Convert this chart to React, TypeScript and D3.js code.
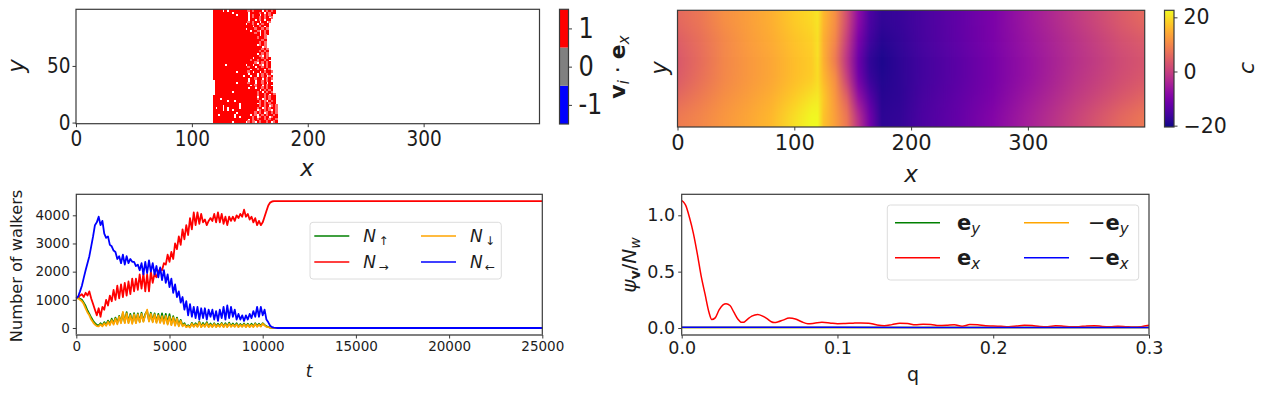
import React, { useEffect, useRef } from 'react';
import * as d3 from 'd3';

const FONT = '"DejaVu Sans", sans-serif';
const TEXT_COLOR = '#1c1c1c';
const SPINE_COLOR = '#3a3a3a';

// walkers: one string per row, top row first. each char is 2 lattice sites
// # = occupied, + = partly occupied, . = empty
const walkerRowsTop = [
  '####.#.########+#+###.#+#+#',
  '########.######.####+#.#+##',
  '##########.####.#+##.#+#+#',
  '###############.#+##+#+#.+',
  '###############.##.#+#.##',
  '###############+#+##.##.+',
  '##############.##+#.#+##',
  '#################.##+#.#',
  '##############.###+##+#+',
  '################.##+.#+#',
  '##################+#.#+#',
  '####################.#+',
  '###################+##+',
  '#####################+#',
  '####################+#+',
  '###################.+#+',
  '#####################.+',
  '#####################+#+',
  '####################+#+#',
  '###################.#+#+',
  '####################+.#+',
  '#################.###+#+#',
  '################+##+##+#',
  '##################+.#+#+#',
  '#####.########.##.##+.#+#',
];
const walkerRowsBottom = [
  '###############+##.##+#+#',
  '################.##+##.#+',
  '##########.####+#.##.#+##+',
  '###############.###.#+#+#',
  '#############.##.##.#+#.+#',
  '###############.##+##.#+#+',
  '.##############.##.##+#+#',
  '.#########.####+##.##+#.##',
  '.###############.#+##.#+#',
  '.##############.##.##+#+##',
  '.###################.#+#+#',
  '.#######.##########+#.#+#+',
  '.##################+##+#.#+',
  '###################.##+#+##',
  '###.###############+#.+#+##',
  '######.##.##########+#+.#+#',
  '###########.#######.+#+#+##',
  '####.######.########+#+#.+#+',
  '#.##.#.####.#######+#.+#+##+',
  '####.#.#.##########.+#+#+.#+',
  '##########.#######+#+#.+#+#+',
  '##.######.######.#+.#+#+##+#',
  '#########.#.#####+#.+#+#.+##',
  '###############.#+#+##+#+##+',
  '########.#####.+#+.#+##+#.+#',
];
const walkerRows = [...walkerRowsTop, ...walkerRowsBottom];

const fieldX = [0, 20, 40, 60, 80, 100, 115, 120, 125, 135, 145, 155, 165, 175, 190, 210, 240, 270, 300, 340, 380, 399];
const fieldY99 = [6, 8, 11, 13, 15, 18, 19.5, 20.5, 16, 11, 2, -8, -15, -17.5, -17, -15.5, -13, -10, -6, -1, 4, 6];
const fieldY80 = [4.5, 7, 10, 12.5, 14.5, 17, 18.5, 20, 15, 10, 0, -10, -16, -18.5, -17.5, -15.5, -13, -10, -6.5, -2, 2.5, 4];
const fieldY60 = [3.5, 6.5, 10, 12, 14, 16.5, 18, 20, 15, 8, -2, -12, -18, -19.5, -18, -16, -13.5, -10.5, -7, -2.5, 1.5, 3];
const fieldY40 = [4, 7, 10, 12, 14, 16.5, 18, 19.5, 16, 11, 0, -11, -17, -19, -18, -16, -13.5, -10.5, -7, -2, 2, 3.5];
const fieldY20 = [6, 8.5, 11, 13, 15, 18, 20.5, 21, 18, 12, 5, -7, -14, -18.5, -18, -15.5, -13, -10, -6, -1, 3.5, 5.5];
const fieldY0 = [8.5, 10, 12, 14, 16, 20, 23, 23, 17, 13, 8, -2, -11, -18, -17.5, -15, -12.5, -9, -5, 0.5, 6, 8];
const fieldRows = [fieldY99, fieldY80, fieldY60, fieldY40, fieldY20, fieldY0];

// walker counts, one value every 100 time steps, last value holds until t = 25000
const countLeft = [1050, 1120, 1300, 1500, 1780, 2050, 2300, 2550, 2900, 3250, 3650, 3750, 3950, 3650, 3800, 3350, 3200, 3250, 2950, 2900, 2750, 2700, 2450, 2550, 2300, 2600, 2250, 2550, 2300, 2450, 2350, 2350, 2200, 2250, 2050, 2300, 1900, 2350, 1950, 2400, 2000, 2300, 1900, 2200, 1800, 2150, 1700, 2050, 1600, 1900, 1450, 1750, 1250, 1550, 1100, 1300, 900, 1100, 650, 950, 450, 850, 400, 750, 350, 750, 300, 700, 350, 700, 300, 650, 400, 650, 300, 600, 250, 650, 350, 750, 300, 800, 350, 750, 400, 650, 300, 500, 300, 450, 250, 450, 300, 500, 350, 600, 400, 750, 400, 750, 450, 650, 300, 200, 80, 30, 10, 5, 0, 0];
const countRight = [1050, 1100, 1150, 1200, 1100, 1250, 1150, 1300, 1050, 850, 650, 450, 700, 400, 750, 650, 1000, 800, 1150, 950, 1350, 1000, 1500, 1050, 1550, 1100, 1600, 1150, 1650, 1200, 1750, 1300, 1750, 1350, 1900, 1400, 1950, 1300, 1900, 1300, 2000, 1600, 1950, 1800, 2000, 2100, 2050, 2300, 2250, 2600, 2350, 2700, 2450, 3000, 2800, 3250, 2950, 3500, 3150, 3650, 3300, 3900, 3500, 4100, 3650, 4100, 3700, 4050, 3750, 3850, 3650, 3800, 3900, 3800, 4050, 3750, 4100, 3750, 4050, 3700, 3950, 3650, 3950, 3800, 3950, 3800, 4000, 3900, 4050, 3950, 4200, 3950, 4050, 3850, 3950, 3750, 3900, 3650, 3800, 3650, 3750, 3950, 4150, 4350, 4450, 4490, 4500, 4500, 4500, 4500];
const countDown = [1050, 1050, 1000, 950, 850, 700, 550, 450, 300, 200, 120, 70, 60, 130, 60, 170, 80, 220, 100, 280, 120, 330, 130, 400, 170, 570, 170, 520, 170, 450, 150, 480, 170, 480, 200, 500, 220, 450, 650, 230, 500, 200, 480, 180, 450, 180, 420, 150, 430, 120, 400, 100, 380, 80, 330, 60, 250, 60, 130, 30, 70, 20, 150, 40, 130, 40, 200, 30, 130, 40, 170, 30, 120, 30, 140, 30, 110, 40, 150, 30, 130, 30, 150, 40, 120, 40, 130, 30, 110, 40, 130, 30, 120, 30, 110, 30, 140, 40, 120, 50, 150, 90, 40, 30, 10, 5, 0, 0, 0, 0];
const countUp = [1050, 1080, 1040, 1000, 900, 780, 620, 500, 370, 260, 170, 110, 90, 170, 90, 210, 110, 260, 150, 330, 160, 370, 180, 430, 200, 540, 210, 560, 210, 500, 190, 530, 200, 520, 230, 540, 250, 500, 600, 260, 540, 240, 520, 220, 500, 210, 520, 190, 500, 160, 490, 140, 420, 110, 370, 90, 290, 90, 170, 50, 100, 40, 180, 60, 170, 60, 230, 50, 180, 60, 210, 50, 160, 50, 170, 50, 150, 60, 180, 50, 170, 50, 190, 60, 160, 60, 170, 50, 140, 60, 160, 50, 150, 50, 150, 50, 170, 60, 150, 70, 170, 110, 60, 40, 15, 5, 0, 0, 0, 0];

// structure factor, finer steps near the origin
const psiQ = [0, 0.001, 0.0025, 0.005, 0.0075, 0.01, 0.0125, 0.015, 0.0175, 0.0193, 0.0215, 0.024, 0.0265, 0.0285, 0.031, 0.0335, 0.036, 0.0385, 0.0396, 0.042, 0.045, 0.0488, 0.052, 0.055, 0.0575, 0.0595, 0.062, 0.065, 0.069, 0.073, 0.077, 0.081, 0.085, 0.09, 0.095, 0.1, 0.105, 0.11, 0.115, 0.12, 0.125, 0.13, 0.135, 0.14, 0.145, 0.15, 0.155, 0.16, 0.165, 0.17, 0.175, 0.18, 0.185, 0.19, 0.195, 0.2, 0.205, 0.21, 0.215, 0.22, 0.225, 0.23, 0.235, 0.24, 0.245, 0.25, 0.255, 0.26, 0.265, 0.27, 0.275, 0.28, 0.285, 0.29, 0.295, 0.3];
const psiRight = [1.13, 1.12, 1.09, 0.98, 0.84, 0.66, 0.46, 0.3, 0.14, 0.075, 0.09, 0.16, 0.205, 0.215, 0.2, 0.14, 0.08, 0.05, 0.05, 0.075, 0.105, 0.12, 0.105, 0.08, 0.055, 0.048, 0.055, 0.07, 0.088, 0.08, 0.055, 0.038, 0.042, 0.05, 0.045, 0.038, 0.04, 0.043, 0.045, 0.043, 0.028, 0.02, 0.03, 0.042, 0.04, 0.028, 0.034, 0.032, 0.022, 0.024, 0.028, 0.016, 0.03, 0.028, 0.02, 0.018, 0.015, 0.012, 0.018, 0.025, 0.022, 0.014, 0.012, 0.02, 0.016, 0.01, 0.012, 0.018, 0.02, 0.014, 0.012, 0.016, 0.012, 0.008, 0.012, 0.024];
const psiFlatQ = [0, 0.1, 0.2, 0.3];
const psiUp = [0.005, 0.004, 0.004, 0.004];
const psiDown = [0.005, 0.005, 0.004, 0.005];
const psiLeft = [0.006, 0.006, 0.005, 0.005];

const tickFieldX = [0, 100, 200, 300];
const tickWalkerY = [0, 50];
const tickTime = [0, 5000, 10000, 15000, 20000, 25000];
const tickCount = [0, 1000, 2000, 3000, 4000];
const tickQ = [0, 0.1, 0.2, 0.3];
const tickPsi = [0, 0.5, 1];
const tickC = [-20, 0, 20];

type Run = { t: string; style?: string; weight?: string; dy?: number; size?: number };
type G = d3.Selection<SVGGElement, unknown, null, undefined>;

// rich text, used for the math labels
function richText(g: G, x: number, y: number, size: number, runs: Run[], rotate = 0, anchor = 'start') {
  const text = g.append('text')
    .attr('transform', `translate(${x},${y}) rotate(${rotate})`)
    .attr('font-family', FONT)
    .attr('font-size', size)
    .attr('fill', TEXT_COLOR)
    .attr('text-anchor', anchor);
  let shift = 0;
  runs.forEach((r) => {
    const dy = r.dy || 0;
    text.append('tspan')
      .attr('dy', dy - shift)
      .attr('font-style', r.style || 'normal')
      .attr('font-weight', r.weight || 'normal')
      .attr('font-size', r.size || size)
      .text(r.t);
    shift = dy;
  });
  return text;
}

function frame(g: G, x0: number, x1: number, y0: number, y1: number, thickBottom = false) {
  g.append('rect')
    .attr('x', x0).attr('y', y0).attr('width', x1 - x0).attr('height', y1 - y0)
    .attr('fill', 'none').attr('stroke', SPINE_COLOR).attr('stroke-width', 1.2);
  if (thickBottom) {
    g.append('line')
      .attr('x1', x0).attr('x2', x1).attr('y1', y1).attr('y2', y1)
      .attr('stroke', '#808080').attr('stroke-width', 2);
  }
}

// squeeze narrows the glyphs, the top row of the figure is stretched vertically
function bottomAxis(g: G, scale: any, y: number, ticks: number[], fontSize: number, format: (d: any) => string, padding = 3, squeeze = 1) {
  const axis = g.append('g')
    .attr('transform', `translate(0,${y})`)
    .call(d3.axisBottom(scale).tickValues(ticks).tickSize(3.5).tickPadding(padding).tickFormat(format) as any);
  axis.select('.domain').remove();
  axis.selectAll('.tick line').attr('stroke', SPINE_COLOR);
  axis.selectAll('.tick text').attr('font-family', FONT).attr('font-size', fontSize).attr('fill', TEXT_COLOR)
    .attr('transform', `scale(${squeeze},1)`);
}

function sideAxis(g: G, scale: any, x: number, ticks: number[], fontSize: number, format: (d: any) => string, right = false, padding = 3, squeeze = 1) {
  const maker = right ? d3.axisRight(scale) : d3.axisLeft(scale);
  const axis = g.append('g')
    .attr('transform', `translate(${x},0)`)
    .call(maker.tickValues(ticks).tickSize(3.5).tickPadding(padding).tickFormat(format) as any);
  axis.select('.domain').remove();
  axis.selectAll('.tick line').attr('stroke', SPINE_COLOR);
  axis.selectAll('.tick text').attr('font-family', FONT).attr('font-size', fontSize).attr('fill', TEXT_COLOR)
    .attr('transform', `scale(${squeeze},1)`);
}

export default function App() {
  const svgRef = useRef<SVGSVGElement>(null);

  useEffect(() => {
    const svg = d3.select(svgRef.current as SVGSVGElement);
    svg.selectAll('*').remove();
    const defs = svg.append('defs');
    const root = svg.append('g') as unknown as G;

    // top left, walker positions
    const walkX = d3.scaleLinear().domain([0, 400]).range([76, 539.5]);
    const walkY = d3.scaleLinear().domain([-1, 100]).range([123.7, 9.3]);
    const walkers = root.append('g').attr('shape-rendering', 'crispEdges');
    walkerRows.forEach((row, r) => {
      const yTop = 99 - r * 2;
      row.split('').forEach((ch, c) => {
        if (ch === '.') return;
        const xLeft = 118 + c * 2;
        walkers.append('rect')
          .attr('x', walkX(xLeft))
          .attr('y', walkY(yTop + 1))
          .attr('width', walkX(xLeft + 2) - walkX(xLeft) + 0.5)
          .attr('height', walkY(yTop - 1) - walkY(yTop + 1) + 0.5)
          .attr('fill', ch === '#' ? '#ff0000' : '#ff6a6a');
      });
    });
    frame(root, 76, 539.5, 9.3, 123.7);
    bottomAxis(root, walkX, 123.7, tickFieldX, 21.5, (d) => `${d}`, 4, 0.86);
    sideAxis(root, walkY, 76, tickWalkerY, 21.5, (d) => `${d}`, false, 3, 0.86);
    richText(root, 307, 176, 23, [{ t: 'x', style: 'italic' }], 0, 'middle');
    richText(root, 24, 66, 23, [{ t: 'y', style: 'italic' }], -90, 'middle');

    // discrete colour bar
    const dirScale = d3.scaleLinear().domain([-1.5, 1.5]).range([124, 9.3]);
    const dirColors = d3.scaleOrdinal<number, string>().domain([-1, 0, 1]).range(['#0000ff', '#808080', '#ff0000']);
    [-1, 0, 1].forEach((v) => {
      root.append('rect')
        .attr('x', 559.5).attr('width', 9)
        .attr('y', dirScale(v + 0.5))
        .attr('height', dirScale(v - 0.5) - dirScale(v + 0.5))
        .attr('fill', dirColors(v));
    });
    frame(root, 559.5, 568.5, 9.3, 124);
    sideAxis(root, dirScale, 568.5, [-1, 0, 1], 28, (d) => `${d}`, true, 8, 0.86);
    richText(root, 625, 67, 22, [
      { t: 'v', weight: 'bold' },
      { t: 'i', style: 'italic', dy: 4, size: 15 },
      { t: ' · ' },
      { t: 'e', weight: 'bold' },
      { t: 'x', style: 'italic', dy: 4, size: 15 },
    ], -90, 'middle');

    // top right, chemical field
    const fx = d3.scaleLinear().domain([0, 400]).range([677.5, 1144.7]);
    const fy = d3.scaleLinear().domain([0, fieldRows.length]).range([10.3, 127]);
    const plasma = d3.scaleSequential(d3.interpolatePlasma).domain([-20.5, 22.6]);
    const blur = defs.append('filter')
      .attr('id', 'fieldBlur')
      .attr('filterUnits', 'userSpaceOnUse')
      .attr('x', 600).attr('y', -100).attr('width', 660).attr('height', 340)
      .attr('color-interpolation-filters', 'sRGB');
    blur.append('feGaussianBlur').attr('stdDeviation', '0.6 9');
    defs.append('clipPath').attr('id', 'fieldClip')
      .append('rect').attr('x', 677.5).attr('y', 10.3).attr('width', 467.2).attr('height', 116.7);
    const field = root.append('g').attr('clip-path', 'url(#fieldClip)').append('g').attr('filter', 'url(#fieldBlur)');
    fieldRows.forEach((row, r) => {
      const grad = defs.append('linearGradient')
        .attr('id', `fieldRow${r}`)
        .attr('gradientUnits', 'userSpaceOnUse')
        .attr('x1', fx(0)).attr('x2', fx(400)).attr('y1', 0).attr('y2', 0);
      row.forEach((v, i) => {
        grad.append('stop').attr('offset', fieldX[i] / 400).attr('stop-color', plasma(v));
      });
      const over = r === 0 || r === fieldRows.length - 1 ? 40 : 0;
      field.append('rect')
        .attr('x', fx(0) - 5).attr('width', fx(400) - fx(0) + 10)
        .attr('y', fy(r) - (r === 0 ? over : 0))
        .attr('height', fy(r + 1) - fy(r) + over + 0.5)
        .attr('fill', `url(#fieldRow${r})`);
    });
    frame(root, 677.5, 1144.7, 10.3, 127);
    bottomAxis(root, fx, 127, tickFieldX, 21, (d) => `${d}`, 5);
    richText(root, 911, 182, 23, [{ t: 'x', style: 'italic' }], 0, 'middle');
    richText(root, 667, 68, 23, [{ t: 'y', style: 'italic' }], -90, 'middle');

    // continuous colour bar
    const cScale = d3.scaleLinear().domain([-20.5, 22.6]).range([127, 10.3]);
    const barGrad = defs.append('linearGradient')
      .attr('id', 'cBar').attr('x1', 0).attr('x2', 0).attr('y1', 1).attr('y2', 0);
    d3.range(0, 1.01, 0.05).forEach((p) => {
      barGrad.append('stop').attr('offset', p).attr('stop-color', d3.interpolatePlasma(p));
    });
    root.append('rect').attr('x', 1164.5).attr('y', 10.3).attr('width', 9.5).attr('height', 116.7).attr('fill', 'url(#cBar)');
    frame(root, 1164.5, 1174, 10.3, 127);
    sideAxis(root, cScale, 1174, tickC, 20.5, (d) => `${d}`.replace('-', '−'), true, 6);
    richText(root, 1254, 68, 22, [{ t: 'c', style: 'italic' }], -90, 'middle');

    // bottom left, walker counts
    const tx = d3.scaleLinear().domain([0, 25000]).range([76.3, 542.3]);
    const ny = d3.scaleLinear().domain([0, 4000]).range([328, 215.3]);
    const countLine = d3.line<number>()
      .x((_, i, all) => tx(i === all.length - 1 ? 25000 : i * 100))
      .y((d) => ny(d));
    const countSeries: [number[], string][] = [
      [countUp, '#008000'], [countRight, '#ff0000'], [countDown, '#ffa500'], [countLeft, '#0000ff'],
    ];
    countSeries.forEach(([values, color]) => {
      root.append('path').attr('d', countLine(values) as string)
        .attr('fill', 'none').attr('stroke', color).attr('stroke-width', 1.8).attr('stroke-linejoin', 'round');
    });
    frame(root, 76.3, 542.3, 194.3, 335, true);
    bottomAxis(root, tx, 335, tickTime, 13.5, (d) => `${d}`);
    sideAxis(root, ny, 76.3, tickCount, 13.5, (d) => `${d}`);
    richText(root, 309, 377, 17, [{ t: 't', style: 'italic' }], 0, 'middle');
    richText(root, 22, 266, 16.2, [{ t: 'Number of walkers' }], -90, 'middle');

    // legend, bottom left
    root.append('rect').attr('x', 310).attr('y', 222.3).attr('width', 191.3).attr('height', 56.7).attr('rx', 3)
      .attr('fill', '#fff').attr('fill-opacity', 0.8).attr('stroke', '#dcdcdc');
    const countLegend: [string, string, number, number][] = [
      ['↑', '#008000', 314.3, 236], ['→', '#ff0000', 314.3, 262],
      ['↓', '#ffa500', 421, 236], ['←', '#0000ff', 421, 262],
    ];
    countLegend.forEach(([arrow, color, x, y]) => {
      root.append('line').attr('x1', x).attr('x2', x + 35).attr('y1', y).attr('y2', y)
        .attr('stroke', color).attr('stroke-width', 1.5);
      richText(root, x + 49, y + 6, 17, [
        { t: 'N', style: 'italic' },
        { t: `\u2009${arrow}`, dy: 3, size: 12 },
      ]);
    });

    // bottom right, structure factor
    const qx = d3.scaleLinear().domain([0, 0.3]).range([681.7, 1149]);
    const py = d3.scaleLinear().domain([0, 1]).range([328, 215.3]);
    defs.append('clipPath').attr('id', 'psiClip')
      .append('rect').attr('x', 681.7).attr('y', 194.3).attr('width', 467.3).attr('height', 140.7);
    const psiPlot = root.append('g').attr('clip-path', 'url(#psiClip)');
    const psiLine = d3.line<[number, number]>()
      .x((d) => qx(d[0])).y((d) => py(d[1])).curve(d3.curveMonotoneX);
    const psiSeries: [number[], number[], string][] = [
      [psiFlatQ, psiUp, '#008000'], [psiQ, psiRight, '#ff0000'], [psiFlatQ, psiDown, '#ffa500'], [psiFlatQ, psiLeft, '#0000ff'],
    ];
    psiSeries.forEach(([qs, values, color]) => {
      psiPlot.append('path').attr('d', psiLine(qs.map((q, i) => [q, values[i]] as [number, number])) as string)
        .attr('fill', 'none').attr('stroke', color).attr('stroke-width', 1.5);
    });
    frame(root, 681.7, 1149, 194.3, 335, true);
    bottomAxis(root, qx, 335, tickQ, 17.5, (d) => d3.format('.1f')(d));
    sideAxis(root, py, 681.7, tickPsi, 17.5, (d) => d3.format('.1f')(d));
    richText(root, 913, 381, 19, [{ t: 'q' }], 0, 'middle');
    richText(root, 636, 265, 20, [
      { t: 'ψ', style: 'italic' },
      { t: 'v', weight: 'bold', dy: 4, size: 14 },
      { t: '/' },
      { t: 'N', style: 'italic' },
      { t: 'w', style: 'italic', dy: 4, size: 14 },
    ], -90, 'middle');

    // legend, bottom right
    root.append('rect').attr('x', 887.3).attr('y', 205).attr('width', 251.4).attr('height', 75).attr('rx', 3)
      .attr('fill', '#fff').attr('fill-opacity', 0.8).attr('stroke', '#dcdcdc');
    const psiLegend: [string, string, string, number, number][] = [
      ['', 'y', '#008000', 895, 222.7], ['', 'x', '#ff0000', 895, 257.7],
      ['−', 'y', '#ffa500', 1024, 222.7], ['−', 'x', '#0000ff', 1024, 257.7],
    ];
    psiLegend.forEach(([sign, sub, color, x, y]) => {
      root.append('line').attr('x1', x).attr('x2', x + 45).attr('y1', y).attr('y2', y)
        .attr('stroke', color).attr('stroke-width', 1.5);
      richText(root, sign ? x + 64 : x + 62, y + 7, 21, [
        { t: `${sign}` },
        { t: 'e', weight: 'bold' },
        { t: sub, style: 'italic', dy: 4, size: 15 },
      ]);
    });
  }, []);

  return <svg ref={svgRef} width={1268} height={394} style={{ position: 'absolute', left: 0, top: 0 }} />;
}
